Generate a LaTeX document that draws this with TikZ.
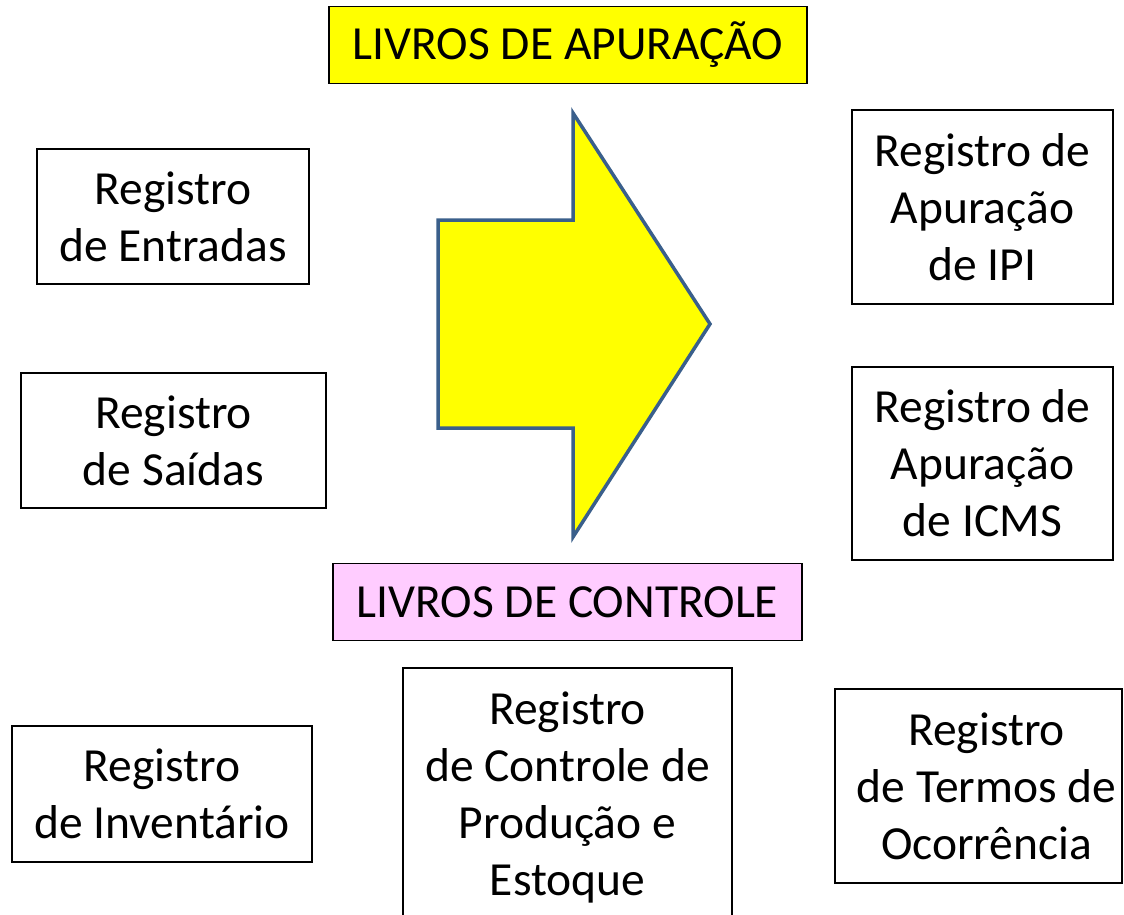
\documentclass[tikz,border=0pt]{standalone}
\usepackage{fontspec}
\setmainfont{Carlito}
\usepackage{xcolor}
\definecolor{setaazul}{HTML}{3A5F8B}
\definecolor{rosa}{HTML}{FFCCFF}
\definecolor{amarelo}{HTML}{FFFF00}

\begin{document}
\begin{tikzpicture}[x=1pt,y=-1pt,
  registro/.style={draw,line width=1.4pt,inner sep=0pt,align=center,
    font=\fontsize{47.5}{57}\selectfont},
  titulo/.style={registro,minimum height=77pt}]

% Page frame
\useasboundingbox (0,0) rectangle (1124,915);
\clip (0,0) rectangle (1124,915);

% Big yellow arrow
\draw[setaazul, line width=3.5pt, fill=amarelo, line join=miter]
  (438,220) -- (573,220) -- (573,113) -- (710,324) -- (573,537)
  -- (573,428) -- (438,428) -- cycle;

% Headings
\node[titulo, fill=amarelo, minimum width=478pt] (apuracao) at (568,45) {LIVROS DE APURAÇÃO};
\node[titulo, fill=rosa, minimum width=469pt] (controle) at (567.5,602) {LIVROS DE CONTROLE};

% Left column
\node[registro, minimum width=272pt, minimum height=135pt] (entradas) at (173,216.5) {Registro\\de Entradas};
\node[registro, minimum width=305pt, minimum height=135pt] (saidas) at (173.5,440.5) {Registro\\de Saídas};

% Right column
\node[registro, minimum width=261pt, minimum height=194pt] (ipi) at (982.5,207) {Registro de\\Apuração\\de IPI};
\node[registro, minimum width=261pt, minimum height=193pt] (icms) at (982.5,463.5) {Registro de\\Apuração\\de ICMS};

% Bottom row
\node[registro, minimum width=300pt, minimum height=136pt] (inventario) at (162,794) {Registro\\de Inventário};
\node[registro, minimum width=329pt, minimum height=258pt] (producao) at (567.5,797) {Registro\\de Controle de\\Produção e\\Estoque};
\node[registro, minimum width=287pt, minimum height=194pt] (ocorrencia) at (978.5,786) {\hspace*{16pt}Registro\\\hspace*{16pt}de Termos de\\\hspace*{16pt}Ocorrência};

\end{tikzpicture}
\end{document}
